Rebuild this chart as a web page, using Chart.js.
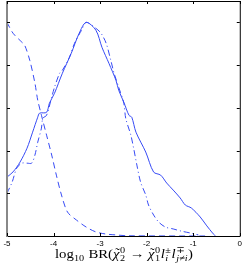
<!DOCTYPE html>
<html>
<head>
<meta charset="utf-8">
<script src="https://cdn.jsdelivr.net/npm/chart.js@4"></script>
<style>
  html, body { margin:0; padding:0; background:#fff; }
</style>
</head>
<body>
<canvas id="c" width="245" height="267"></canvas>
<script>
// ── Data ──────────────────────────────────────────────────
const solidX = [-5.00,-4.87,-4.72,-4.57,-4.45,-4.34,-4.30,-4.15,-4.09,-3.98,-3.81,-3.62,-3.45,-3.30,-3.09,-2.96,-2.81,-2.66,-2.60,-2.49,-2.38,-2.32,-2.23,-2.02,-1.85,-1.70,-1.57,-1.43,-1.28,-1.17,-1.04,-0.85,-0.72,-0.57,-0.52];
const solidY = [0.276,0.300,0.346,0.411,0.486,0.556,0.575,0.579,0.621,0.668,0.762,0.855,0.949,1.000,0.963,0.883,0.808,0.729,0.682,0.626,0.565,0.556,0.486,0.393,0.299,0.285,0.248,0.215,0.178,0.145,0.131,0.089,0.051,0.010,0.000];

const dashX = [-5.00,-4.87,-4.68,-4.62,-4.51,-4.40,-4.34,-4.26,-4.15,-4.04,-3.94,-3.83,-3.70,-3.51,-3.30,-3.09,-2.87,-2.66,-2.40,-0.74];
const dashY = [1.000,0.949,0.907,0.893,0.822,0.715,0.636,0.565,0.472,0.379,0.285,0.192,0.112,0.075,0.042,0.019,0.009,0.005,0.001,0.000];

const dotX = [-5.00,-4.89,-4.79,-4.68,-4.57,-4.47,-4.40,-4.34,-4.26,-4.23,-4.15,-4.04,-3.98,-3.87,-3.81,-3.66,-3.55,-3.40,-3.30,-3.09,-2.98,-2.87,-2.77,-2.70,-2.60,-2.49,-2.45,-2.34,-2.28,-2.21,-2.13,-2.02,-1.96,-1.85,-1.74,-1.60,-1.43,-1.26,-1.06,-0.89];
const dotY = [0.200,0.252,0.318,0.341,0.341,0.341,0.379,0.439,0.505,0.551,0.565,0.650,0.696,0.762,0.776,0.836,0.902,0.963,1.000,0.972,0.949,0.902,0.822,0.762,0.696,0.621,0.551,0.472,0.411,0.332,0.252,0.192,0.145,0.098,0.065,0.042,0.033,0.023,0.014,0.005];

const xTicks = [-5,-4,-3,-2,-1,0];
const yTicks = [0.2,0.4,0.6,0.8,1.0];

// axis title pieces: [main text, italic?, superscript, subscript, tilde?]
const titleParts = [
  ['log', false, '', '10'],
  [' BR(', false],
  ['χ', true, '0', '2', true],
  [' → ', false],
  ['χ', true, '0', '1', true],
  ['l', true, '±', 'i'],
  ['l', true, '∓', 'j≠i'],
  [')', false]
];

// ── Helpers ───────────────────────────────────────────────
const pts = (xs, ys) => xs.map((x,i) => ({x, y: ys[i]}));
const blue = 'rgb(55,75,245)';
const SERIF = '"Liberation Serif","DejaVu Serif",serif';

// frame + inward ticks on all four sides
const framePlugin = {
  id: 'frame',
  afterDraw(chart) {
    const {ctx, chartArea:a, scales:{x, y}} = chart;
    ctx.save();
    ctx.strokeStyle = '#000'; ctx.lineWidth = 1;
    ctx.beginPath();
    ctx.moveTo(a.left, a.top + 0.5); ctx.lineTo(a.right + 0.5, a.top + 0.5);
    ctx.lineTo(a.right + 0.5, a.bottom + 0.5); ctx.lineTo(a.left, a.bottom + 0.5);
    ctx.stroke();
    ctx.strokeStyle = '#888'; ctx.lineWidth = 2;
    ctx.beginPath(); ctx.moveTo(a.left, a.top); ctx.lineTo(a.left, a.bottom + 1); ctx.stroke();
    ctx.strokeStyle = '#000'; ctx.lineWidth = 1;
    ctx.beginPath();
    xTicks.forEach(v => {
      const px = Math.round(x.getPixelForValue(v)) + 0.5;
      ctx.moveTo(px, a.top); ctx.lineTo(px, a.top + 3);
      ctx.moveTo(px, a.bottom); ctx.lineTo(px, a.bottom - 3);
    });
    yTicks.forEach(v => {
      const py = Math.round(y.getPixelForValue(v)) + 0.5;
      ctx.moveTo(a.left, py); ctx.lineTo(a.left + 3, py);
      ctx.moveTo(a.right, py); ctx.lineTo(a.right - 3, py);
    });
    ctx.stroke();
    ctx.restore();
  }
};

// x-axis title with sub/superscripts, stretched to the width seen in the original
const titlePlugin = {
  id: 'xtitle',
  afterDraw(chart) {
    const ctx = chart.ctx;
    const mainF = it => (it ? 'italic ' : '') + '13px ' + SERIF;
    const smallF = it => (it ? 'italic ' : '') + '9px ' + SERIF;
    const layout = draw => {
      let x = 0;
      titleParts.forEach(([txt, it, sup, sub, tilde]) => {
        ctx.font = mainF(it);
        const w = ctx.measureText(txt).width;
        if (draw) {
          ctx.fillText(txt, x, 0);
          if (tilde) {
            ctx.font = '12px ' + SERIF;
            const tw = ctx.measureText('˜').width;
            ctx.fillText('˜', x + w / 2 - tw / 2 + 1, -1);
          }
        }
        x += w + (it ? 0.5 : 0);
        let sw = 0;
        if (sup) {
          ctx.font = smallF(false);
          sw = Math.max(sw, ctx.measureText(sup).width);
          if (draw) ctx.fillText(sup, x, -5);
        }
        if (sub) {
          ctx.font = smallF(/[a-z]/.test(sub));
          sw = Math.max(sw, ctx.measureText(sub).width);
          if (draw) ctx.fillText(sub, x, 3);
        }
        x += sw + (sw ? 0.5 : 0);
      });
      return x;
    };
    ctx.save();
    ctx.fillStyle = '#000';
    ctx.textBaseline = 'alphabetic';
    const total = layout(false);
    const want = 138, sx = want / total;
    ctx.translate(124 - want / 2, 258);
    ctx.scale(sx, 1);
    layout(true);
    ctx.restore();
  }
};

const line = (data, dash) => ({
  data, borderColor: blue, borderWidth: 1, borderDash: dash,
  pointRadius: 0, tension: 0.3, fill: false, showLine: true
});

new Chart(document.getElementById('c'), {
  type: 'scatter',
  data: { datasets: [
    line(pts(solidX, solidY), []),
    line(pts(dashX, dashY), [6,4]),
    line(pts(dotX, dotY), [6,3,1,3])
  ]},
  options: {
    responsive: false, animation: false,
    layout: { padding: { top: 1, right: 3, left: 0, bottom: 0 } },
    plugins: { legend: { display: false }, tooltip: { enabled: false } },
    scales: {
      x: {
        type: 'linear', min: -5, max: 0,
        afterFit: s => { s.height = 31; },
        afterBuildTicks: s => { s.ticks = xTicks.map(v => ({value: v})); },
        grid: { display: false, drawTicks: false },
        border: { display: false },
        ticks: { color: '#000', font: { family: 'Helvetica, Arial, "Liberation Sans", sans-serif', size: 8 }, padding: 3, maxRotation: 0, autoSkip: false }
      },
      y: {
        min: 0, max: 1.1,
        afterFit: s => { s.width = 7; },
        grid: { display: false, drawTicks: false },
        border: { display: false },
        ticks: { display: false }
      }
    }
  },
  plugins: [framePlugin, titlePlugin]
});
</script>
</body>
</html>
